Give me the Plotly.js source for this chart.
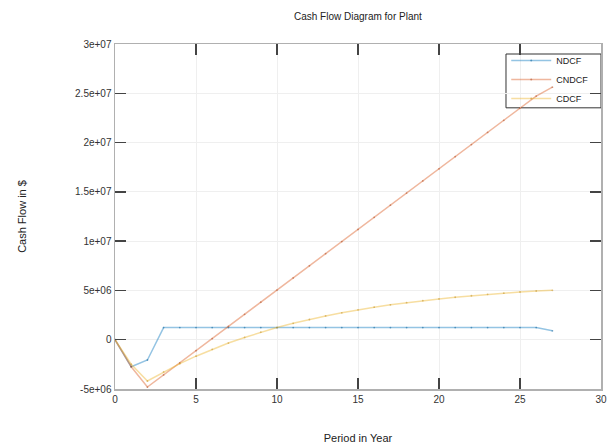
<!DOCTYPE html>
<html>
<head>
<meta charset="utf-8">
<script src="https://cdn.plot.ly/plotly-3.0.1.min.js"></script>
<style>html,body{margin:0;padding:0;background:#fff;}#chart{width:616px;height:446px;}</style>
</head>
<body>
<div id="chart"></div>
<script>
// Period (years)
var periods = [0,1,2,3,4,5,6,7,8,9,10,11,12,13,14,15,16,17,18,19,20,21,22,23,24,25,26,27];
// Net (non-discounted) cash flow per year, $
var ndcf = [0,-2.74e6,-2.06e6,1.23e6,1.23e6,1.23e6,1.23e6,1.23e6,1.23e6,1.23e6,1.23e6,1.23e6,1.23e6,1.23e6,1.23e6,1.23e6,1.23e6,1.23e6,1.23e6,1.23e6,1.23e6,1.23e6,1.23e6,1.23e6,1.23e6,1.23e6,1.23e6,0.9e6];
// Cumulative non-discounted cash flow, $
var cndcf = [0,-2.74e6,-4.80e6,-3.57e6,-2.34e6,-1.11e6,0.12e6,1.35e6,2.58e6,3.81e6,5.04e6,6.27e6,7.50e6,8.73e6,9.96e6,11.19e6,12.42e6,13.65e6,14.88e6,16.11e6,17.34e6,18.57e6,19.80e6,21.03e6,22.26e6,23.49e6,24.72e6,25.62e6];
// Cumulative discounted cash flow, $
var cdcf = [0,-2.49e6,-4.19e6,-3.27e6,-2.43e6,-1.67e6,-0.97e6,-0.34e6,0.23e6,0.76e6,1.23e6,1.66e6,2.05e6,2.41e6,2.73e6,3.03e6,3.30e6,3.54e6,3.76e6,3.96e6,4.14e6,4.31e6,4.46e6,4.60e6,4.72e6,4.84e6,4.94e6,5.01e6];

var seriesNames = ['NDCF','CNDCF','CDCF'];
var xTicks = [0,5,10,15,20,25,30];
var yTickVals = [-5e6,0,5e6,1e7,1.5e7,2e7,2.5e7,3e7];
var yTickText = ['-5e+06','0','5e+06','1e+07','1.5e+07','2e+07','2.5e+07','3e+07'];

var lineColors = ['rgba(0,114,189,0.42)','rgba(217,83,25,0.42)','rgba(237,177,32,0.42)'];
var markerColors = ['rgba(0,90,150,0.5)','rgba(170,70,30,0.5)','rgba(190,140,30,0.5)'];
var ys = [ndcf, cndcf, cdcf];

var traces = ys.map(function(y, i){
  return {
    x: periods, y: y, name: seriesNames[i], type: 'scatter', mode: 'lines+markers',
    line: {color: lineColors[i], width: 1.5},
    marker: {color: markerColors[i], size: 1.8, symbol: 'circle'}
  };
});

var fontFam = 'Liberation Sans, Arial, sans-serif';
var axisCommon = {
  showline: true, linecolor: '#b0b0b0', linewidth: 1.5, mirror: 'ticks',
  ticks: 'inside', ticklen: 11, tickwidth: 1.5, tickcolor: '#444',
  showgrid: true, gridcolor: '#efefef', gridwidth: 1, zeroline: false,
  tickfont: {family: fontFam, size: 10, color: '#333'}
};

var layout = {
  width: 616, height: 446,
  margin: {l: 115, r: 15, t: 44, b: 57},
  paper_bgcolor: '#fff', plot_bgcolor: '#fff',
  font: {family: fontFam, color: '#222'},
  title: {text: 'Cash Flow Diagram for Plant', font: {family: fontFam, size: 10, color: '#222'}, x: 0.581, xanchor: 'center', y: 0.962, yanchor: 'middle'},
  xaxis: Object.assign({}, axisCommon, {
    range: [0, 30], tickvals: xTicks, ticktext: xTicks.map(String),
    title: {text: 'Period in Year', font: {family: fontFam, size: 11, color: '#222'}, standoff: 31}
  }),
  yaxis: Object.assign({}, axisCommon, {
    range: [-5e6, 3e7], tickvals: yTickVals, ticktext: yTickText,
    title: {text: 'Cash Flow in $', font: {family: fontFam, size: 11, color: '#222'}, standoff: 46}
  }),
  showlegend: true,
  legend: {
    x: 0.805, y: 0.994, xanchor: 'left', yanchor: 'top',
    bgcolor: 'rgba(255,255,255,0)', borderwidth: 0, itemwidth: 40,
    font: {family: fontFam, size: 9, color: '#222'}, tracegroupgap: 0
  },
  shapes: [{
    type: 'rect', xref: 'paper', yref: 'paper',
    x0: 0.8045, x1: 1.0, y0: 0.815, y1: 0.971,
    line: {color: '#333', width: 1}, fillcolor: 'rgba(0,0,0,0)', layer: 'below'
  }]
};

Plotly.newPlot('chart', traces, layout, {displayModeBar: false, staticPlot: true});
</script>
</body>
</html>
